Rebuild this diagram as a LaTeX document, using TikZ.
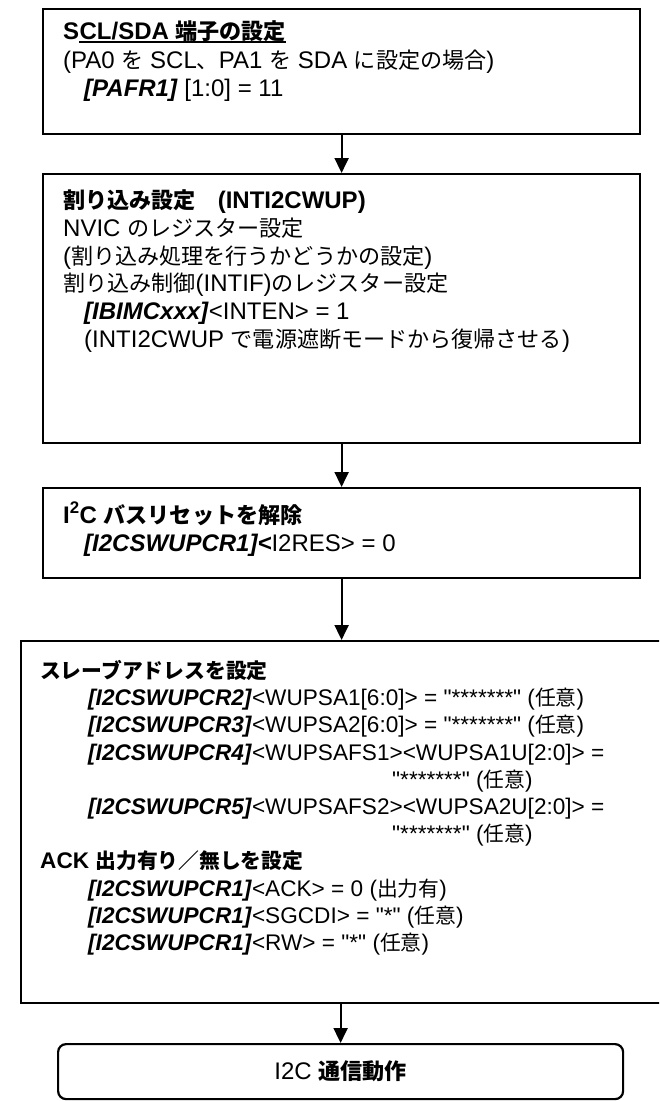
\documentclass[tikz,border=0pt]{standalone}
\usepackage{fontspec}
\setmainfont{Liberation Sans}[Ligatures=TeXOff]
\newfontfamily\jp[Scale=0.92]{Noto Sans CJK JP}
\usetikzlibrary{arrows.meta,positioning}
\newcommand\ja[1]{{\jp #1}}
\newcommand\reg[1]{\textbf{\textit{#1}}}
\tikzset{
    stepbox/.style={draw, line width=2.2pt, inner sep=0pt, anchor=north west},
    txt/.style={inner sep=0pt, anchor=base west, font=\fontsize{24}{28}\selectfont},
    txtb/.style={txt, font=\fontsize{22.6}{27}\selectfont},
    flow/.style={line width=2pt, -{Triangle[width=14pt,length=15pt]}},
}

\begin{document}
\begin{tikzpicture}[x=1pt, y=-1pt]
    \useasboundingbox (0,0) rectangle (659,1101);
    \clip (0,0) rectangle (659,1101);
    % boxes
    \node[stepbox, minimum width=597pt, minimum height=125pt] (b1) at (42,8) {};
    \node[stepbox, minimum width=597pt, minimum height=269pt] (b2) at (42,173) {};
    \node[stepbox, minimum width=597pt, minimum height=90pt] (b3) at (42,487) {};
    \node[stepbox, minimum width=660pt, minimum height=362pt] (b4) at (20,640) {};
    \node[stepbox, rounded corners=8pt, minimum width=565pt, minimum height=55pt] (b5) at (57,1043) {};
    % box 1
    \node[txt] (h1) at (63,39) {\bfseries S};
    \node[txt] (h1u) at (h1.base east) {\bfseries CL/SDA \ja{端子の設定}};
    \draw[line width=1.8pt] ([yshift=-3pt]h1u.base west) -- ([yshift=-3pt]h1u.base east);
    \node[txt] (t1b) at (63,68) {(PA0 \ja{を} SCL\ja{、}PA1 \ja{を} SDA \ja{に設定の場合})};
    \node[txt] (t1c) at (84,96) {\reg{[PAFR1]} [1:0] = 11};
    % box 2
    \node[txt] (h2) at (63,208) {\bfseries\ja{割り込み設定　}(INTI2CWUP)};
    \node[txt] (t2a) at (63,236) {NVIC \ja{のレジスター設定}};
    \node[txt] (t2b) at (63,264) {(\ja{割り込み処理を行うかどうかの設定})};
    \node[txt] (t2c) at (63,291) {\ja{割り込み制御}(INTIF)\ja{のレジスター設定}};
    \node[txt] (t2d) at (84,319) {\reg{[IBIMCxxx]}<INTEN> = 1};
    \node[txt] (t2e) at (84,347) {(INTI2CWUP \ja{で電源遮断モードから復帰させる})};
    % box 3
    \node[txt] (h3) at (63,523) {\bfseries I\textsuperscript{2}C \ja{バスリセットを解除}};
    \node[txt] (t3a) at (84,551) {\reg{[I2CSWUPCR1]<}I2RES> = 0};
    % box 4
    \node[txtb] (h4) at (40,678.5) {\bfseries\ja{スレーブアドレスを設定}};
    \node[txtb] (t4a) at (88,705.7) {\reg{[I2CSWUPCR2]}<WUPSA1[6:0]> = "*******" (\ja{任意})};
    \node[txtb] (t4b) at (88,732.9) {\reg{[I2CSWUPCR3]}<WUPSA2[6:0]> = "*******" (\ja{任意})};
    \node[txtb] (t4c) at (88,760.1) {\reg{[I2CSWUPCR4]}<WUPSAFS1><WUPSA1U[2:0]> =};
    \node[txtb] (t4d) at (392,787.3) {"*******" (\ja{任意})};
    \node[txtb] (t4e) at (88,814.5) {\reg{[I2CSWUPCR5]}<WUPSAFS2><WUPSA2U[2:0]> =};
    \node[txtb] (t4f) at (392,841.7) {"*******" (\ja{任意})};
    \node[txtb] (h4b) at (40,868.9) {\bfseries ACK \ja{出力有り／無しを設定}};
    \node[txtb] (t4g) at (88,896.1) {\reg{[I2CSWUPCR1]}<ACK> = 0 (\ja{出力有})};
    \node[txtb] (t4h) at (88,923.3) {\reg{[I2CSWUPCR1]}<SGCDI> = "*" (\ja{任意})};
    \node[txtb] (t4i) at (88,950.5) {\reg{[I2CSWUPCR1]}<RW> = "*" (\ja{任意})};
    % box 5
    \node[txt, anchor=center] (t5) at (b5.center) {I2C \textbf{\ja{通信動作}}};
    % arrows
    \draw[flow] (b1) -- (b2);
    \draw[flow] (b2) -- (b3);
    \draw[flow] (b3.south) -- (b3.south |- b4.north);
    \draw[flow] (b5.north |- b4.south) -- (b5.north);
\end{tikzpicture}
\end{document}
